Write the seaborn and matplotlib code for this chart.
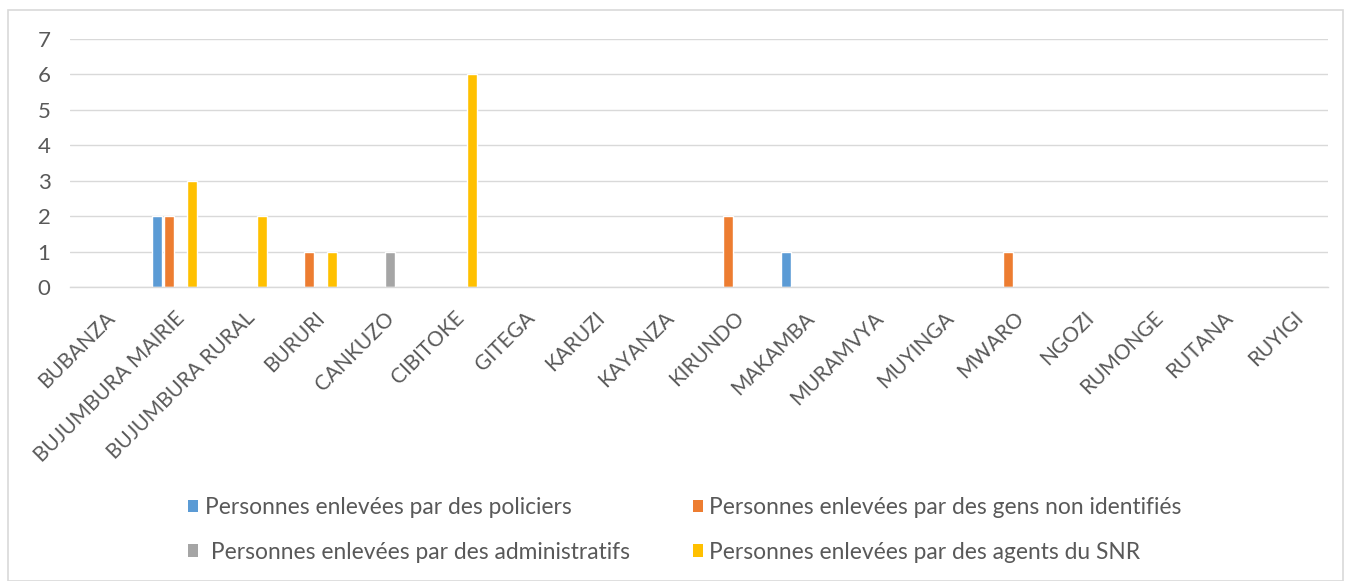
import matplotlib
matplotlib.use("Agg")
import matplotlib.pyplot as plt
import seaborn as sns
import pandas as pd
from matplotlib.patches import Rectangle, Patch

categories = ["BUBANZA", "BUJUMBURA MAIRIE", "BUJUMBURA RURAL", "BURURI", "CANKUZO",
              "CIBITOKE", "GITEGA", "KARUZI", "KAYANZA", "KIRUNDO", "MAKAMBA",
              "MURAMVYA", "MUYINGA", "MWARO", "NGOZI", "RUMONGE", "RUTANA", "RUYIGI"]
series_names = ["Personnes enlevées par des policiers",
                "Personnes enlevées par des gens non identifiés",
                " Personnes enlevées par des administratifs",
                "Personnes enlevées par des agents du SNR"]
policiers      = [0, 2, 0, 0, 0, 0, 0, 0, 0, 0, 1, 0, 0, 0, 0, 0, 0, 0]
non_identifies = [0, 2, 0, 1, 0, 0, 0, 0, 0, 2, 0, 0, 0, 1, 0, 0, 0, 0]
administratifs = [0, 0, 0, 0, 1, 0, 0, 0, 0, 0, 0, 0, 0, 0, 0, 0, 0, 0]
agents_snr     = [0, 3, 2, 1, 0, 6, 0, 0, 0, 0, 0, 0, 0, 0, 0, 0, 0, 0]
colors = ["#5B9BD5", "#ED7D31", "#A5A5A5", "#FFC000"]

rows = []
for name, vals in zip(series_names, [policiers, non_identifies, administratifs, agents_snr]):
    for c, v in zip(categories, vals):
        rows.append({"Province": c, "Série": name, "Valeur": v})
df = pd.DataFrame(rows)

sns.set_theme(style="white")
plt.rcParams['font.family'] = ['Lato', 'DejaVu Sans']

fig = plt.figure(figsize=(13.47, 5.81), dpi=100)
ax = fig.add_axes([70/1347, 1-287/581, (1328-70)/1347, (287-39)/581])

sns.barplot(data=df, x="Province", y="Valeur", hue="Série", order=categories,
            hue_order=series_names, palette=colors, width=0.67, gap=0.15,
            saturation=1, ax=ax, legend=False)

ax.set_ylim(0, 7)
ax.set_xlim(-0.5, len(categories) - 0.5)
ax.set_yticks(range(0, 8))
ax.yaxis.grid(True, color="#D9D9D9", linewidth=1)
ax.set_axisbelow(True)
for s in ["top", "right", "left"]:
    ax.spines[s].set_visible(False)
ax.spines["bottom"].set_color("#D9D9D9")
ax.spines["bottom"].set_linewidth(1)
ax.set_xlabel("")
ax.set_ylabel("")
ax.tick_params(axis="y", length=0, labelsize=16, labelcolor="#595959", pad=14)
ax.tick_params(axis="x", length=0, labelsize=15, labelcolor="#595959", pad=15)
for lbl in ax.get_xticklabels():
    lbl.set_rotation(45)
    lbl.set_ha("right")
    lbl.set_va("top")
    lbl.set_rotation_mode("anchor")

handles = [Patch(facecolor=c, edgecolor="none") for c in colors]
order = [0, 2, 1, 3]
fig.legend([handles[i] for i in order], [series_names[i] for i in order],
           loc="center", bbox_to_anchor=(685/1347, 1-530/581),
           ncol=2, frameon=False, fontsize=16.4, labelcolor="#595959",
           handlelength=0.44, handleheight=0.44, handletextpad=0.3,
           columnspacing=2.75, labelspacing=1.02)

fig.patches.append(Rectangle((8/1347, 0), (1343-8)/1347, 1-10/581,
                             transform=fig.transFigure, fill=False,
                             edgecolor="#D9D9D9", linewidth=1.2))

fig.savefig("out.png", dpi=100)
